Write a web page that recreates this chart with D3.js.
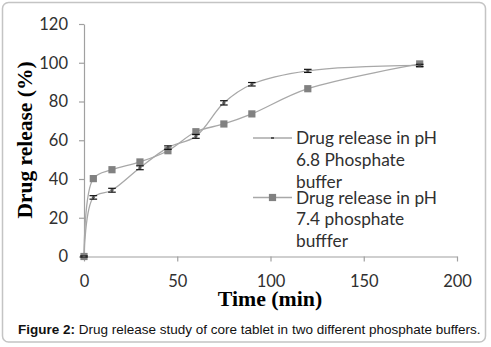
<!DOCTYPE html>
<html>
<head>
<meta charset="utf-8">
<script src="https://cdn.jsdelivr.net/npm/d3@7"></script>
<style>
html,body{margin:0;padding:0;background:#fff;}
svg{display:block;}
</style>
</head>
<body>
<svg id="chart" width="491" height="347"></svg>
<script>
// ---- data ----
const times = [0, 5, 15, 30, 45, 60, 75, 90, 120, 180];
const ph68 = [0, 30.5, 34.2, 45.8, 56.2, 62.0, 79.3, 88.9, 95.8, 98.6];
const ph68Err = [0.3, 0.9, 1.0, 1.0, 0.9, 1.0, 1.1, 0.9, 0.8, 0.6];
const ph74 = [0, 40.2, 44.8, 48.8, 54.6, 64.4, 68.4, 73.6, 86.6, 99.4];
const xTicks = [0, 50, 100, 150, 200];
const yTicks = [0, 20, 40, 60, 80, 100, 120];
const legendLabels = [
  ["Drug release in pH", "6.8 Phosphate", "buffer"],
  ["Drug release in pH", "7.4 phosphate", "bufffer"]
];
const xTitle = "Time (min)";
const yTitle = "Drug release (%)";
const captionBold = "Figure 2:";
const captionText = " Drug release study of core tablet in two different phosphate buffers.";

// ---- drawing ----
const svg = d3.select("#chart");
svg.append("rect").attr("x", 2.5).attr("y", 2.5).attr("width", 483).attr("height", 339.5)
  .attr("rx", 6).attr("fill", "#fff").attr("stroke", "#c4c4c4").attr("stroke-width", 1.5);

const x = d3.scaleLinear().domain([0, 200]).range([84, 457]);
const y = d3.scaleLinear().domain([0, 120]).range([256.5, 24]);

const tickFont = "Lato, 'Open Sans', sans-serif";

const xAxis = svg.append("g").attr("transform", `translate(0,${y(0)})`)
  .call(d3.axisBottom(x).tickValues(xTicks).tickSize(5).tickPadding(20).tickSizeOuter(0));
const yAxis = svg.append("g").attr("transform", `translate(${x(0)},0)`)
  .call(d3.axisLeft(y).tickValues(yTicks).tickSize(5).tickPadding(11).tickSizeOuter(0));
[xAxis, yAxis].forEach(g => {
  g.select(".domain").attr("stroke", "#a0a0a0").attr("stroke-width", 1.2);
  g.selectAll(".tick line").attr("stroke", "#a0a0a0").attr("stroke-width", 1.2);
  g.selectAll(".tick text").attr("fill", "#303030").style("font-family", tickFont).style("font-size", "16.5px");
});
xAxis.selectAll(".tick text").attr("dy", "0.32em");

// lines
const pts68 = times.map((t, i) => [t, ph68[i]]);
const pts74 = times.map((t, i) => [t, ph74[i]]);
const line = d3.line().x(d => x(d[0])).y(d => y(d[1])).curve(d3.curveCatmullRom.alpha(0.5));

svg.append("path").attr("d", line(pts68)).attr("fill", "none").attr("stroke", "#a8a8a8").attr("stroke-width", 1.3);
svg.append("path").attr("d", line(pts74)).attr("fill", "none").attr("stroke", "#a8a8a8").attr("stroke-width", 1.3);

// squares for pH 7.4
svg.append("g").selectAll("rect").data(pts74).join("rect")
  .attr("x", d => x(d[0]) - 3.6).attr("y", d => y(d[1]) - 3.6)
  .attr("width", 7.2).attr("height", 7.2).attr("fill", "#818181");

// error bars for pH 6.8
const eb = svg.append("g").attr("stroke", "#111").attr("stroke-width", 1.2);
pts68.forEach((d, i) => {
  const cx = x(d[0]);
  const y1 = y(d[1] + ph68Err[i]), y2 = y(d[1] - ph68Err[i]);
  eb.append("line").attr("x1", cx).attr("x2", cx).attr("y1", y1).attr("y2", y2);
  eb.append("line").attr("x1", cx - 3.8).attr("x2", cx + 3.8).attr("y1", y1).attr("y2", y1);
  eb.append("line").attr("x1", cx - 3.8).attr("x2", cx + 3.8).attr("y1", y2).attr("y2", y2);
});
svg.append("g").selectAll("rect").data(pts68).join("rect")
  .attr("x", d => x(d[0]) - 1.5).attr("y", d => y(d[1]) - 1).attr("width", 3).attr("height", 2).attr("fill", "#555");

// legend
const legFont = "Lato, 'Open Sans', sans-serif";
const leg = svg.append("g");
const legY = [138, 197.5];
const lh = 21.7;
legendLabels.forEach((lines, k) => {
  leg.append("line").attr("x1", 253).attr("x2", 292).attr("y1", legY[k]).attr("y2", legY[k])
    .attr("stroke", "#a8a8a8").attr("stroke-width", 1.3);
  if (k === 0) {
    leg.append("rect").attr("x", 271).attr("y", legY[k] - 1).attr("width", 3).attr("height", 2).attr("fill", "#555");
  } else {
    leg.append("rect").attr("x", 268.9).attr("y", legY[k] - 3.6).attr("width", 7.2).attr("height", 7.2).attr("fill", "#818181");
  }
  lines.forEach((t, j) => {
    leg.append("text").attr("x", 296).attr("y", legY[k] + j * lh).attr("dy", "0.36em")
      .attr("fill", "#303030").style("font-family", legFont).style("font-size", "17.3px").text(t);
  });
});

// axis titles
svg.append("text").attr("x", 270).attr("y", 298).attr("dy", "0.35em").attr("text-anchor", "middle")
  .style("font-family", "'Liberation Serif', 'Times New Roman', serif").style("font-weight", "bold").style("font-size", "21.8px")
  .attr("fill", "#000").text(xTitle);
svg.append("text").attr("transform", "translate(24,140) rotate(-90)").attr("dy", "0.35em").attr("text-anchor", "middle")
  .style("font-family", "'Liberation Serif', 'Times New Roman', serif").style("font-weight", "bold").style("font-size", "21.5px")
  .attr("fill", "#000").text(yTitle);

// caption
const cap = svg.append("text").attr("x", 18).attr("y", 329.5).attr("dy", "0.35em")
  .style("font-family", "'Liberation Sans', Arial, sans-serif").style("font-size", "13.5px").attr("fill", "#111");
cap.append("tspan").style("font-weight", "bold").text(captionBold);
cap.append("tspan").text(captionText);
</script>
</body>
</html>
